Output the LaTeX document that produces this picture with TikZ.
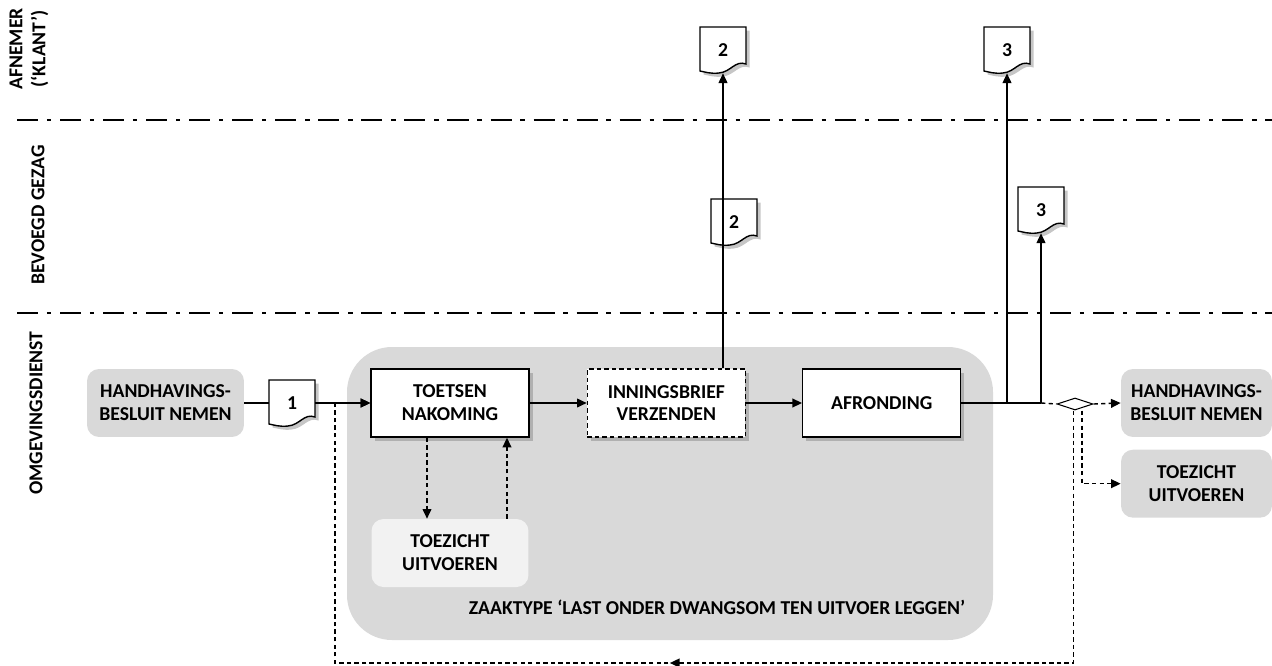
\documentclass[tikz,border=0pt]{standalone}
\usepackage{fontspec}
\setmainfont{Carlito}
\usepackage{tikz}
\usetikzlibrary{positioning, shapes.geometric, arrows.meta, shadows, decorations.markings}
\definecolor{boxgray}{RGB}{217,217,217}
\definecolor{palegray}{RGB}{242,242,242}
\tikzset{
  lbl/.style={font=\fontsize{11.2}{13}\selectfont\bfseries, align=center},
  lanelbl/.style={lbl, rotate=90},
  stepbox/.style={lbl, draw, line width=0.8pt, fill=white, minimum width=3.16cm, minimum height=1.36cm,
                  drop shadow={shadow xshift=2pt, shadow yshift=-2pt, opacity=0.45}},
  graybox/.style={lbl, fill=boxgray, rounded corners=0.24cm, minimum width=3.14cm, minimum height=1.36cm},
  dia/.style={diamond, draw, line width=0.6pt, fill=white, inner sep=0pt, aspect=3,
              minimum width=0.72cm, minimum height=0.24cm},
  docshape/.style={draw, line width=0.8pt, fill=white,
                   drop shadow={shadow xshift=2pt, shadow yshift=-2pt, opacity=0.45}},
  docnum/.style={lbl, inner sep=0pt, minimum width=0.92cm, minimum height=0.92cm},
  laneline/.style={line width=1.6pt, dash pattern=on 12pt off 5pt on 2.5pt off 5pt},
  plain/.style={line width=0.8pt},
  flow/.style={plain, -{Triangle[length=5.5pt,width=5pt]}},
  dline/.style={plain, dash pattern=on 2.5pt off 1.8pt},
  dflow/.style={flow, dash pattern=on 2.5pt off 1.8pt},
  loopmark/.style={postaction={decorate}, decoration={markings,
                   mark=at position 0.51 with {\arrow{Triangle[length=5.5pt,width=5pt]}}}}
}
\newcommand\docnode[3]{%
  \draw[docshape, shift={(#2)}] (-23,-23) -- (23,-23) -- (23,14)
     .. controls (12,10) and (8,22) .. (-4,23) .. controls (-12,24) and (-18,22) .. (-23,21) -- cycle;
  \node[docnum] (#1) at (#2) {#3};}

\begin{document}
\begin{tikzpicture}[x=0.02cm, y=-0.02cm]
\useasboundingbox (0,0) rectangle (1272,666);
%
\fill[boxgray, rounded corners=0.9cm] (347,347) rectangle (993,640);
\node[lbl] (zaak) at (717,607) {ZAAKTYPE ‘LAST ONDER DWANGSOM TEN UITVOER LEGGEN’};
%
\draw[laneline] (17,120) -- (1272,120);
\draw[laneline] (17,313) -- (1272,313);
\node[lanelbl] (afnemer) at (29,49) {AFNEMER\\(‘KLANT’)};
\node[lanelbl] (bevoegd) at (38,215) {BEVOEGD GEZAG};
\node[lanelbl] (omgeving) at (36,413) {OMGEVINGSDIENST};
%
\node[graybox] (hleft) at (165.5,403) {HANDHAVINGS-\\BESLUIT NEMEN};
\docnode{doc1}{292,403}{1}
\node[stepbox] (toetsen) at (450,403) {TOETSEN\\NAKOMING};
\node[stepbox, dash pattern=on 2.5pt off 1.8pt, right=1.14cm of toetsen] (innings) {INNINGSBRIEF\\VERZENDEN};
\node[stepbox, right=1.12cm of innings] (afronding) {AFRONDING};
\node[graybox, fill=palegray, below=1.62cm of toetsen] (toezicht) {TOEZICHT\\UITVOEREN};
\node[dia] (keuze) at (1075,404) {};
\node[graybox, minimum width=3.02cm] (hright) at (1196.5,403) {HANDHAVINGS-\\BESLUIT NEMEN};
\node[graybox, minimum width=3.02cm, below=0.24cm of hright] (toezr) {TOEZICHT\\UITVOEREN};
%
\docnode{doc2low}{734,222}{2}
\docnode{doc2top}{723,50}{2}
\docnode{doc3top}{1007,50}{3}
\docnode{doc3low}{1041,210}{3}
%
\coordinate (loop) at (335,663);
\draw[dflow, loopmark] ([xshift=-1pt]keuze.south) |- (loop) |- (toetsen.west);
\draw[plain] (hleft.east) -- (doc1.west);
\draw[flow] (doc1.east) -- (toetsen.west);
\draw[flow] (toetsen) -- (innings);
\draw[flow] (innings) -- (afronding);
\draw[dflow] ([xshift=-0.46cm]toetsen.south) -- ([xshift=-0.46cm]toezicht.north);
\draw[dflow] ([xshift=1.14cm]toezicht.north) -- ([xshift=1.14cm]toetsen.south);
\draw[flow] (doc2top.south |- innings.north) -- (doc2top.south);
%
\coordinate (split) at (doc3low.south |- afronding.east);
\draw[plain] (afronding.east) -- (split);
\draw[flow] (doc3top.south |- afronding.east) -- (doc3top.south);
\draw[flow] (split) -- (doc3low.south);
\draw[dline] (split) -- (keuze.west);
\draw[dflow] (keuze.east) -- (hright.west);
\draw[dflow] ([xshift=4pt]keuze.south) |- (toezr.west);
%
\end{tikzpicture}
\end{document}
